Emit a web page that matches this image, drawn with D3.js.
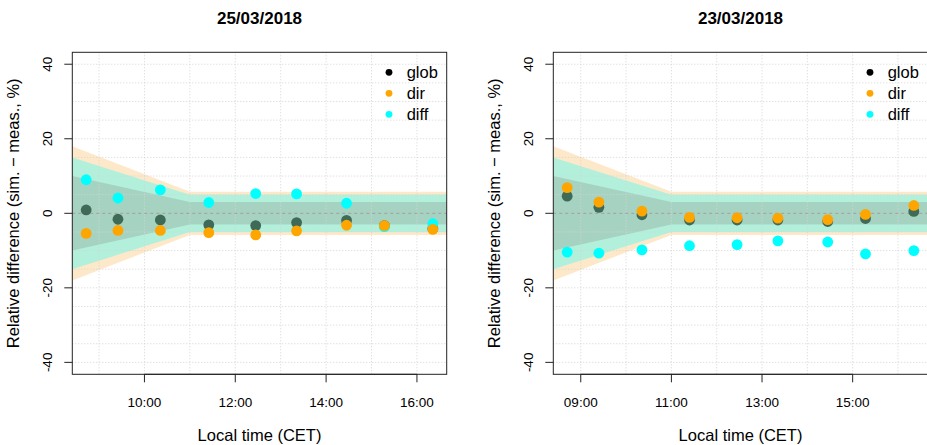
<!DOCTYPE html>
<html>
<head>
<meta charset="utf-8">
<script src="https://cdn.jsdelivr.net/npm/d3@7/dist/d3.min.js"></script>
<style>
  body { margin: 0; background: #fff; }
  text { font-family: "Liberation Sans", Arial, sans-serif; fill: #000; }
</style>
</head>
<body>
<svg width="927" height="445"></svg>
<script>
// panel titles
const dates = ['25/03/2018', '23/03/2018'];

// 25/03/2018
const timesA = ['08:43', '09:25', '10:21', '11:25', '12:27', '13:21', '14:27', '15:17', '16:21'];
const globA = [0.9, -1.6, -1.8, -3.1, -3.3, -2.5, -1.9, -3.3, -4.1];
const dirA = [-5.4, -4.6, -4.6, -5.2, -5.8, -4.7, -3.2, -3.3, -4.3];
const diffA = [9.0, 4.1, 6.3, 2.9, 5.3, 5.2, 2.7, -3.6, -2.8];
const ticksA = ['10:00', '12:00', '14:00', '16:00'];

// 23/03/2018
const timesB = ['08:42', '09:24', '10:21', '11:24', '12:27', '13:21', '14:27', '15:17', '16:21'];
const globB = [4.6, 1.6, -0.4, -1.8, -1.8, -1.8, -2.2, -1.4, 0.5];
const dirB = [6.9, 3.0, 0.6, -1.1, -1.2, -1.3, -1.7, -0.3, 2.1];
const diffB = [-10.4, -10.7, -9.8, -8.7, -8.4, -7.4, -7.7, -10.9, -10.0];
const ticksB = ['09:00', '11:00', '13:00', '15:00'];

// uncertainty bands (+/- %): value at the start, value from the knee on
const bandKnee = '11:00';
const globBand = [10, 3];
const diffBand = [15, 5];
const dirBand = [18, 5.8];

const yTicks = [-40, -20, 0, 20, 40];
const legendNames = ['glob', 'dir', 'diff'];

const colors = { glob: '#000000', dir: '#ffa500', diff: '#00ffff' };
const pointColors = { glob: '#3e6a57', dir: '#ffa500', diff: '#00ffff' };
const bandColors = { dir: '#fde9ca', diff: '#b2f0dc', glob: '#a6d3c1' };

const svg = d3.select('svg');

const plotW = 374.4;
const plotTop = 52.3;
const plotBottom = 374.3;

const hours = (s) => {
  const [h, m] = s.split(':').map(Number);
  return h + m / 60;
};

const y = d3.scaleLinear().domain([-43.2, 43.2]).range([plotBottom, plotTop]);

function drawPanel(left, title, times, series, ticks) {
  const hrs = times.map(hours);
  const ext = d3.extent(hrs);
  const pad = (ext[1] - ext[0]) * 0.04;
  const x = d3.scaleLinear()
    .domain([ext[0] - pad, ext[1] + pad])
    .range([left, left + plotW]);
  const [x0, x1] = x.domain();
  const knee = hours(bandKnee);

  const g = svg.append('g');
  const clipId = 'clip' + Math.round(left);
  g.append('clipPath').attr('id', clipId)
    .append('rect')
    .attr('x', left).attr('y', plotTop)
    .attr('width', plotW).attr('height', plotBottom - plotTop);

  const plot = g.append('g').attr('clip-path', `url(#${clipId})`);

  // bands, outer first
  const area = d3.area()
    .x((d) => x(d[0]))
    .y0((d) => y(-d[1]))
    .y1((d) => y(d[1]));
  [['dir', dirBand], ['diff', diffBand], ['glob', globBand]].forEach(([k, b]) => {
    plot.append('path')
      .attr('d', area([[x0, b[0]], [knee, b[1]], [x1, b[1]]]))
      .attr('fill', bandColors[k]);
  });

  // grid
  const gridY = d3.range(-40, 41, 5).filter((v) => v !== 0);
  plot.selectAll('.gy').data(gridY).enter().append('line')
    .attr('x1', left).attr('x2', left + plotW)
    .attr('y1', (d) => y(d)).attr('y2', (d) => y(d))
    .attr('stroke', '#d3d3d3').attr('stroke-dasharray', '1,2');
  const gridX = d3.range(Math.ceil(x0), Math.floor(x1) + 1);
  plot.selectAll('.gx').data(gridX).enter().append('line')
    .attr('x1', (d) => x(d)).attr('x2', (d) => x(d))
    .attr('y1', plotTop).attr('y2', plotBottom)
    .attr('stroke', '#d3d3d3').attr('stroke-dasharray', '1,2');
  plot.append('line')
    .attr('x1', left).attr('x2', left + plotW)
    .attr('y1', y(0)).attr('y2', y(0))
    .attr('stroke', '#a6a6a6').attr('stroke-width', 1.2)
    .attr('stroke-dasharray', '3,3');

  // points: glob, diff, then dir on top
  ['glob', 'diff', 'dir'].forEach((k) => {
    plot.selectAll('.p' + k).data(series[k]).enter().append('circle')
      .attr('cx', (d, i) => x(hrs[i]))
      .attr('cy', (d) => y(d))
      .attr('r', 5.4)
      .attr('fill', pointColors[k]);
  });

  // box
  g.append('rect')
    .attr('x', left).attr('y', plotTop)
    .attr('width', plotW).attr('height', plotBottom - plotTop)
    .attr('fill', 'none').attr('stroke', '#222');

  // y axis
  const ya = g.append('g');
  ya.selectAll('line').data(yTicks).enter().append('line')
    .attr('x1', left - 8).attr('x2', left)
    .attr('y1', (d) => y(d)).attr('y2', (d) => y(d))
    .attr('stroke', '#222');
  ya.selectAll('text').data(yTicks).enter().append('text')
    .attr('transform', (d) => `translate(${left - 20.6},${y(d)}) rotate(-90)`)
    .attr('text-anchor', 'middle')
    .attr('font-size', 13.5)
    .text((d) => d);
  g.append('text')
    .attr('transform', `translate(${left - 53.8},${(plotTop + plotBottom) / 2}) rotate(-90)`)
    .attr('text-anchor', 'middle')
    .attr('font-size', 16.5)
    .text('Relative difference (sim. \u2212 meas., %)');

  // x axis
  const tx = ticks.map(hours);
  g.append('line')
    .attr('x1', x(tx[0])).attr('x2', x(tx[tx.length - 1]))
    .attr('y1', plotBottom).attr('y2', plotBottom)
    .attr('stroke', '#222');
  g.selectAll('.xt').data(tx).enter().append('line')
    .attr('x1', (d) => x(d)).attr('x2', (d) => x(d))
    .attr('y1', plotBottom).attr('y2', plotBottom + 8)
    .attr('stroke', '#222');
  g.selectAll('.xl').data(ticks).enter().append('text')
    .attr('x', (d) => x(hours(d)))
    .attr('y', 406.7)
    .attr('text-anchor', 'middle')
    .attr('font-size', 13.5)
    .text((d) => d);
  g.append('text')
    .attr('x', left + plotW / 2).attr('y', 440.5)
    .attr('text-anchor', 'middle')
    .attr('font-size', 16.5)
    .text('Local time (CET)');

  // title
  g.append('text')
    .attr('x', left + plotW / 2).attr('y', 23.5)
    .attr('text-anchor', 'middle')
    .attr('font-size', 17)
    .attr('font-weight', 'bold')
    .text(title);

  // legend
  const lg = g.append('g');
  legendNames.forEach((name, i) => {
    lg.append('circle')
      .attr('cx', left + plotW - 57.7)
      .attr('cy', 72.3 + i * 21)
      .attr('r', 3.4)
      .attr('fill', colors[name]);
    lg.append('text')
      .attr('x', left + plotW - 40)
      .attr('y', 72.3 + i * 21 + 5.8)
      .attr('font-size', 16.5)
      .text(name);
  });
}

drawPanel(72.3, dates[0], timesA, { glob: globA, dir: dirA, diff: diffA }, ticksA);
drawPanel(553.3, dates[1], timesB, { glob: globB, dir: dirB, diff: diffB }, ticksB);
</script>
</body>
</html>
